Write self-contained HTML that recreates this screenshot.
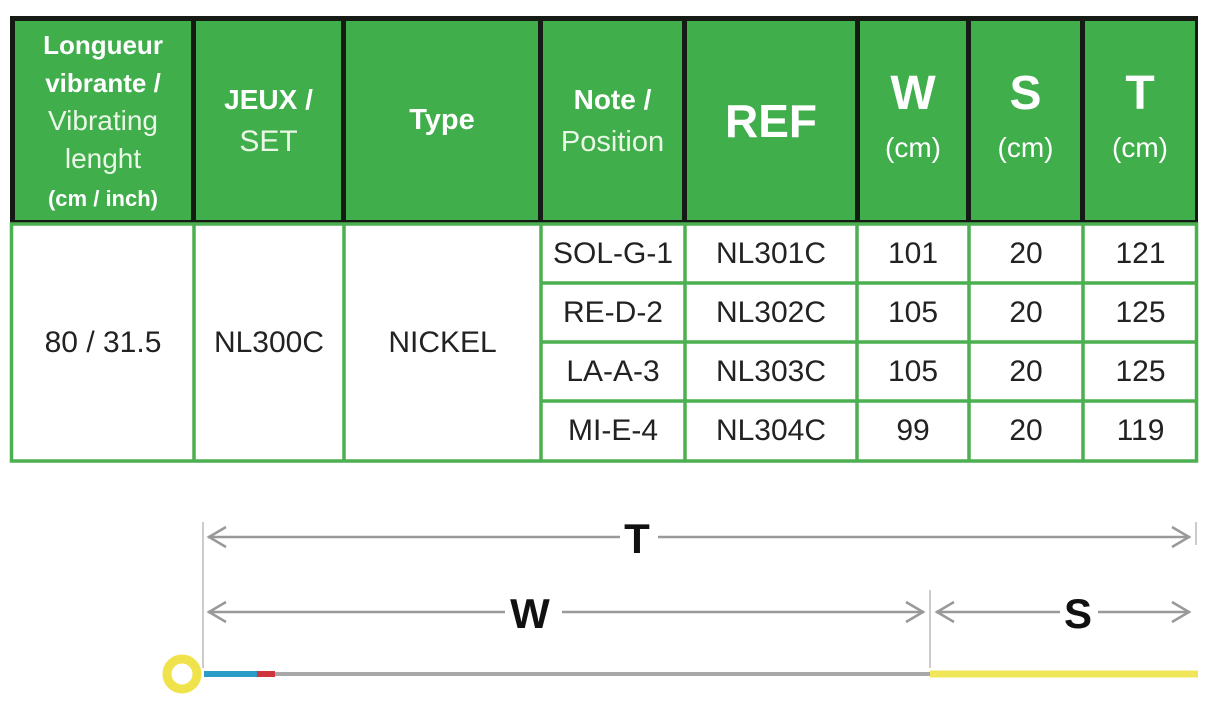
<!DOCTYPE html>
<html><head><meta charset="utf-8"><style>
body{margin:0;width:1214px;height:709px;background:#fff;position:relative;overflow:hidden;font-family:"Liberation Sans",sans-serif}
.c{position:absolute;display:flex;align-items:center;justify-content:center;text-align:center;box-sizing:border-box}
.h{background:#3fae4b;color:#fff;font-weight:bold}
.l{font-weight:normal;color:#eaf7e6}
.b{color:#222;font-size:30px}
</style></head><body>
<div style="position:absolute;left:10px;top:16px;width:1188px;height:208px;background:#151a15"></div>
<div class="c h" style="left:15px;top:21px;width:176px;height:199px;font-size:26px;line-height:38px"><div>Longueur<br>vibrante /<br><span class="l" style="font-size:28px">Vibrating<br>lenght</span><br><span style="font-size:22px;line-height:30px">(cm / inch)</span></div></div>
<div class="c h" style="left:196px;top:21px;width:145px;height:199px;font-size:28px;line-height:42px"><div>JEUX /<br><span class="l" style="font-size:30px">SET</span></div></div>
<div class="c h" style="left:346px;top:21px;width:192px;height:199px;font-size:29px"><div>Type</div></div>
<div class="c h" style="left:543px;top:21px;width:139px;height:199px;font-size:28px;line-height:42px"><div>Note /<br><span class="l" style="font-size:29px">Position</span></div></div>
<div class="c h" style="left:687px;top:21px;width:168px;height:199px;font-size:46px"><div>REF</div></div>
<div class="c h" style="left:860px;top:21px;width:106px;height:199px;font-size:48px;line-height:48px"><div>W<br><span style="font-size:28px;font-weight:normal">(cm)</span></div></div>
<div class="c h" style="left:971px;top:21px;width:109px;height:199px;font-size:48px;line-height:48px"><div>S<br><span style="font-size:28px;font-weight:normal">(cm)</span></div></div>
<div class="c h" style="left:1085px;top:21px;width:110px;height:199px;font-size:48px;line-height:48px"><div>T<br><span style="font-size:28px;font-weight:normal">(cm)</span></div></div>
<svg style="position:absolute;left:0;top:0" width="1214" height="709">
<g stroke="#4caf50" stroke-width="3.5" fill="none">
<rect x="11.5" y="224" width="1185" height="237"/>
<line x1="194" y1="224" x2="194" y2="461"/><line x1="344" y1="224" x2="344" y2="461"/>
<line x1="541" y1="224" x2="541" y2="461"/><line x1="685" y1="224" x2="685" y2="461"/>
<line x1="857" y1="224" x2="857" y2="461"/><line x1="969" y1="224" x2="969" y2="461"/>
<line x1="1083" y1="224" x2="1083" y2="461"/>
<line x1="541" y1="283" x2="1197" y2="283"/><line x1="541" y1="342" x2="1197" y2="342"/><line x1="541" y1="401" x2="1197" y2="401"/>
</g>
<g stroke="#bbb" stroke-width="1.5" fill="none">
<line x1="203" y1="522" x2="203" y2="668"/><line x1="930" y1="590" x2="930" y2="668"/><line x1="1196" y1="522" x2="1196" y2="545"/>
</g>
<g stroke="#999" stroke-width="2.5" fill="none">
<line x1="208" y1="537" x2="620" y2="537"/><line x1="658" y1="537" x2="1190" y2="537"/>
<polyline points="226,527 209,537 226,547"/><polyline points="1172,527 1189,537 1172,547"/>
<line x1="208" y1="612" x2="505" y2="612"/><line x1="562" y1="612" x2="924" y2="612"/>
<polyline points="226,602 209,612 226,622"/><polyline points="906,602 923,612 906,622"/>
<line x1="936" y1="612" x2="1060" y2="612"/><line x1="1098" y1="612" x2="1190" y2="612"/>
<polyline points="954,602 937,612 954,622"/><polyline points="1172,602 1189,612 1172,622"/>
</g>
<text x="637" y="553" font-size="42" font-weight="bold" text-anchor="middle" fill="#111" font-family="Liberation Sans">T</text>
<text x="530" y="628" font-size="42" font-weight="bold" text-anchor="middle" fill="#111" font-family="Liberation Sans">W</text>
<text x="1078" y="628" font-size="42" font-weight="bold" text-anchor="middle" fill="#111" font-family="Liberation Sans">S</text>
<line x1="275" y1="674" x2="930" y2="674" stroke="#a8a8a8" stroke-width="4"/>
<line x1="930" y1="674" x2="1198" y2="674" stroke="#f0e65a" stroke-width="7"/>
<line x1="204" y1="674" x2="258" y2="674" stroke="#2a9cc8" stroke-width="6"/>
<line x1="257" y1="674" x2="275" y2="674" stroke="#d0343c" stroke-width="6"/>
<circle cx="182" cy="674" r="15" fill="none" stroke="#efe24a" stroke-width="9"/>
</svg>
<div class="c b" style="left:14px;top:226px;width:178px;height:233px">80 / 31.5</div>
<div class="c b" style="left:196px;top:226px;width:146px;height:233px">NL300C</div>
<div class="c b" style="left:346px;top:226px;width:193px;height:233px">NICKEL</div>
<div class="c b" style="left:543px;top:225px;width:140px;height:58px">SOL-G-1</div>
<div class="c b" style="left:543px;top:284px;width:140px;height:58px">RE-D-2</div>
<div class="c b" style="left:543px;top:343px;width:140px;height:58px">LA-A-3</div>
<div class="c b" style="left:543px;top:402px;width:140px;height:58px">MI-E-4</div>
<div class="c b" style="left:687px;top:225px;width:168px;height:58px">NL301C</div>
<div class="c b" style="left:687px;top:284px;width:168px;height:58px">NL302C</div>
<div class="c b" style="left:687px;top:343px;width:168px;height:58px">NL303C</div>
<div class="c b" style="left:687px;top:402px;width:168px;height:58px">NL304C</div>
<div class="c b" style="left:859px;top:225px;width:108px;height:58px">101</div>
<div class="c b" style="left:859px;top:284px;width:108px;height:58px">105</div>
<div class="c b" style="left:859px;top:343px;width:108px;height:58px">105</div>
<div class="c b" style="left:859px;top:402px;width:108px;height:58px">99</div>
<div class="c b" style="left:971px;top:225px;width:110px;height:58px">20</div>
<div class="c b" style="left:971px;top:284px;width:110px;height:58px">20</div>
<div class="c b" style="left:971px;top:343px;width:110px;height:58px">20</div>
<div class="c b" style="left:971px;top:402px;width:110px;height:58px">20</div>
<div class="c b" style="left:1085px;top:225px;width:111px;height:58px">121</div>
<div class="c b" style="left:1085px;top:284px;width:111px;height:58px">125</div>
<div class="c b" style="left:1085px;top:343px;width:111px;height:58px">125</div>
<div class="c b" style="left:1085px;top:402px;width:111px;height:58px">119</div>
</body></html>
